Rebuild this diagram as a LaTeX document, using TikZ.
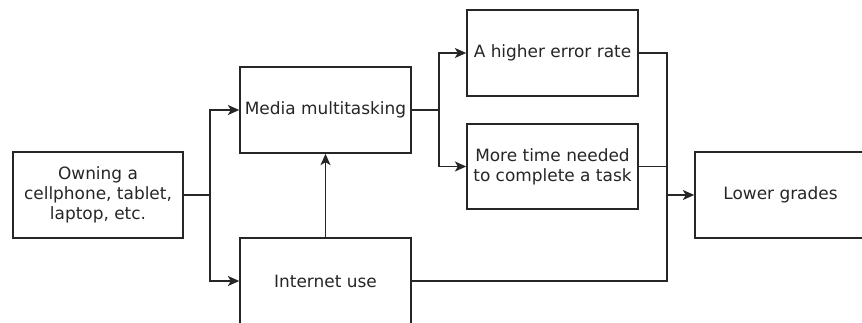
\documentclass[tikz,border=0pt]{standalone}
\usepackage{fontspec}
\setmainfont{DejaVu Sans}
\usetikzlibrary{arrows.meta}
\begin{document}
\begin{tikzpicture}[x=0.75pt,y=-0.75pt,
  box/.style={draw=black!85,line width=1.2pt,fill=white,align=center,inner sep=2pt,
    font=\fontsize{12.7pt}{15pt}\selectfont,text=black!85},
  conn/.style={draw=black!85,line width=1.2pt},
  arr/.style={conn,-{Stealth[length=8.5pt,width=7.5pt,inset=2.2pt]}}]
\useasboundingbox (0,0) rectangle (862,323);
\clip (0,0) rectangle (862,323);
\node[box,minimum width=170*0.75pt,minimum height=86*0.75pt] (own) at (98,195) {Owning a\\cellphone, tablet,\\laptop, etc.};
\node[box,minimum width=171*0.75pt,minimum height=86*0.75pt] (media) at (325.5,110) {Media multitasking};
\node[box,minimum width=171*0.75pt,minimum height=86*0.75pt] (inet) at (325.5,281) {Internet use};
\node[box,minimum width=171*0.75pt,minimum height=86*0.75pt] (err) at (552.5,53) {A higher error rate};
\node[box,minimum width=171*0.75pt,minimum height=85*0.75pt] (time) at (552.5,166.5) {More time needed\\to complete a task};
\node[box,minimum width=171*0.75pt,minimum height=86*0.75pt] (low) at (780.5,195) {Lower grades};
\coordinate (jA) at (210,195);
\coordinate (jB) at (439,110);
\coordinate (jC) at (667,195);
\draw[conn] (own.east) -- (jA);
\draw[arr] (jA) |- (media.west);
\draw[arr] (jA) |- (inet.west);
\draw[arr] (inet.north) -- (media.south);
\draw[conn] (media.east) -- (jB);
\draw[arr] (jB) |- (err.west);
\draw[arr] (jB) |- (time.west);
\draw[conn] (err.east) -| (jC);
\draw[conn] (inet.east) -| (jC);
\draw[conn] (time.east) -- (time.east -| jC);
\draw[arr] (jC) -- (low.west);
\end{tikzpicture}
\end{document}
